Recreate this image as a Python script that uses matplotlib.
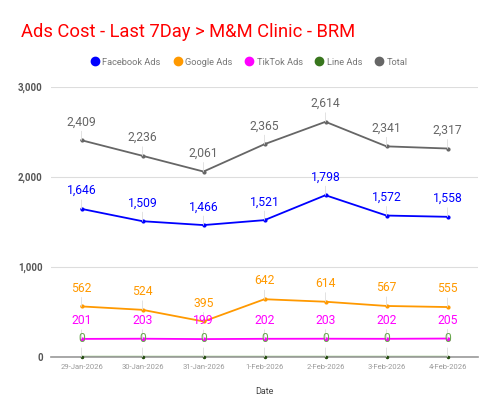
import matplotlib
matplotlib.use("Agg")
import matplotlib.pyplot as plt
from matplotlib.lines import Line2D

plt.rcParams['font.family'] = ['Roboto', 'DejaVu Sans']

dates = ["29-Jan-2026", "30-Jan-2026", "31-Jan-2026", "1-Feb-2026",
         "2-Feb-2026", "3-Feb-2026", "4-Feb-2026"]
facebook = [1646, 1509, 1466, 1521, 1798, 1572, 1558]
google = [562, 524, 395, 642, 614, 567, 555]
tiktok = [201, 203, 199, 202, 203, 202, 205]
line_ads = [0, 0, 0, 0, 0, 0, 0]
total = [2409, 2236, 2061, 2365, 2614, 2341, 2317]
y_ticks = [0, 1000, 2000, 3000]

series = [
    ("Facebook Ads", facebook, "#0000ff", "#0000ff"),
    ("Google Ads", google, "#ff9900", "#ff9900"),
    ("TikTok Ads", tiktok, "#ff00ff", "#ff00ff"),
    ("Line Ads", line_ads, "#38761d", "#6aa84f"),
    ("Total", total, "#666666", "#666666"),
]

fig = plt.figure(figsize=(5, 4.15), dpi=100)
ax = fig.add_axes([0.102, 0.1398, 0.854, 0.6504])

x = list(range(len(dates)))
for name, vals, col, lcol in series:
    if name == "Line Ads":
        ax.plot(x, vals, color="#93c47d", lw=2.5, zorder=2, solid_capstyle='butt')
        ax.plot(x, vals, 'o', color="#274e13", ms=1.5, zorder=3, clip_on=False)
    else:
        ax.plot(x, vals, color=col, lw=1.3, marker='o', ms=2, zorder=3)
    for xi, v in zip(x, vals):
        ax.annotate(f"{v:,}", xy=(xi, v), xytext=(0, 8.5), textcoords='offset points',
                    ha='center', va='bottom', fontsize=8.7, color=lcol, zorder=4,
                    arrowprops=dict(arrowstyle='-', color='#dddddd', lw=0.6,
                                    shrinkA=0, shrinkB=0))

ax.set_xlim(-0.5, len(dates) - 0.5)
ax.set_ylim(0, 3000)
ax.set_yticks(y_ticks)
ax.set_yticklabels([f"{t:,}" for t in y_ticks], fontsize=7, fontweight='bold', color='#555555')
ax.set_xticks(x)
ax.set_xticklabels(dates, fontsize=5.5, color='#999999')
ax.tick_params(axis='both', length=0)
ax.tick_params(axis='x', pad=5)
ax.tick_params(axis='y', pad=6)
ax.grid(axis='y', color='#dddddd', lw=0.8)
ax.set_axisbelow(True)
for s in ['top', 'right', 'left']:
    ax.spines[s].set_visible(False)
ax.spines['bottom'].set_color('#999999')
ax.spines['bottom'].set_linewidth(1.2)
ax.set_xlabel("Date", fontsize=6.5, color='#444444', labelpad=12)

fig.text(0.042, 0.922, "Ads Cost - Last 7Day > M&M Clinic - BRM", fontsize=13.2,
         color='#ff0000', va='center', ha='left')

handles = [Line2D([], [], marker='o', ls='none', color=col, ms=6) for _, _, col, _ in series]
fig.legend(handles, [s[0] for s in series], loc='center', bbox_to_anchor=(0.497, 0.85),
           ncol=5, frameon=False, fontsize=6.7, labelcolor='#777777',
           handletextpad=0.2, columnspacing=1.2, handlelength=1.2)

fig.savefig("out.png", dpi=100)
